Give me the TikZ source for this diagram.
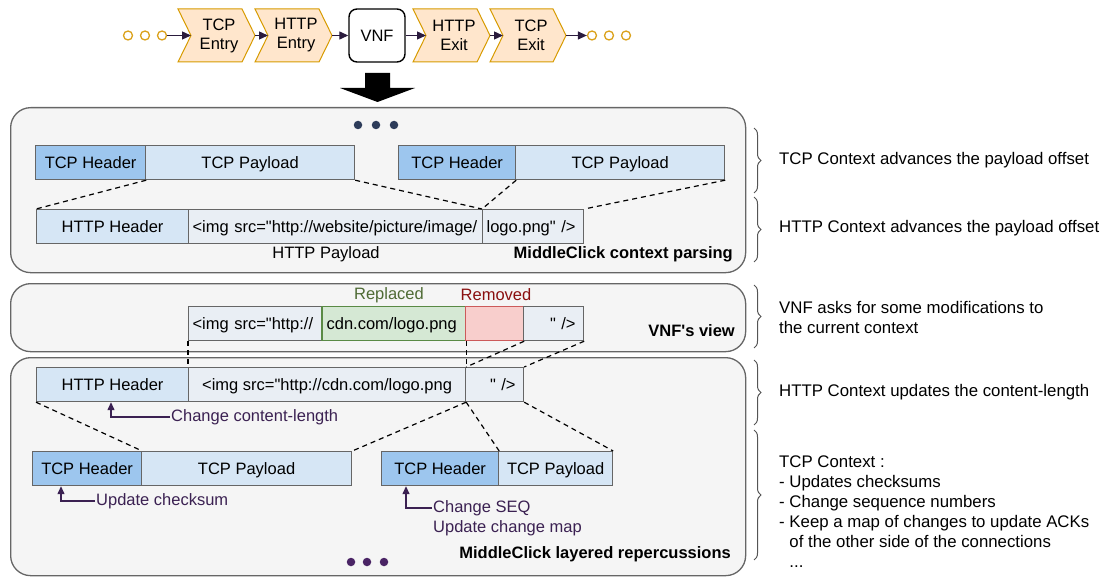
\documentclass[tikz,border=0pt]{standalone}
\usepackage{fontspec}
\setmainfont{Liberation Sans}[Ligatures=TeXOff]
\usetikzlibrary{arrows.meta,decorations.pathreplacing,calc}

\definecolor{chevfill}{HTML}{FFE6CC}
\definecolor{chevline}{HTML}{D79B00}
\definecolor{dotline}{HTML}{DBA21C}
\definecolor{flow}{HTML}{2A1B3D}
\definecolor{note}{HTML}{3B2152}
\definecolor{panelfill}{HTML}{F5F5F5}
\definecolor{panelline}{HTML}{666666}
\definecolor{boxline}{HTML}{666666}
\definecolor{hdrfill}{HTML}{9DC6EE}
\definecolor{payfill}{HTML}{D6E6F5}
\definecolor{lightfill}{HTML}{E9EEF4}
\definecolor{grnfill}{HTML}{D5E8D4}
\definecolor{grnline}{HTML}{5A8A45}
\definecolor{grntext}{HTML}{4F6B35}
\definecolor{redfill}{HTML}{F8CECC}
\definecolor{redline}{HTML}{CC5A5A}
\definecolor{redtext}{HTML}{8A1010}
\definecolor{navydot}{HTML}{2D3C5A}
\definecolor{purpdot}{HTML}{4A2465}
\definecolor{bracecol}{HTML}{555555}

\newcommand\figfont{\fontsize{16.5}{19}\selectfont}
\newcommand\sidefont{\fontsize{16.8}{20}\selectfont}

\tikzset{
  chev/.style={fill=chevfill, draw=chevline, line width=1pt, line join=miter},
  chevtext/.style={font=\figfont, align=center, inner sep=0pt},
  flowarrow/.style={draw=flow, line width=1.3pt, -{Triangle[width=8pt,length=9pt]}},
  ring/.style={circle, draw=dotline, fill=white, line width=1.3pt, minimum size=9pt, inner sep=0pt},
  panel/.style={draw=panelline, fill=panelfill, line width=1.3pt, rounded corners=20pt,
    anchor=north west, inner sep=0pt},
  pkt/.style={draw=boxline, line width=1.2pt, minimum height=34pt, inner sep=0pt,
    text height=11.8pt, text depth=0pt, anchor=north west, font=\figfont},
  lpkt/.style={pkt, inner xsep=4pt, align=left},
  rpkt/.style={pkt, inner xsep=8pt, align=right},
  link/.style={line width=1.2pt, dash pattern=on 5pt off 4pt},
  notearrow/.style={draw=note, line width=1.3pt, -{Triangle[width=7pt,length=8pt]}},
  notetext/.style={font=\figfont, text=note, anchor=west, inner sep=1pt},
  boldtext/.style={font=\figfont\bfseries, inner sep=0pt},
  sidetext/.style={font=\sidefont, anchor=west, align=left, inner sep=0pt},
  curly/.style={draw=bracecol, line width=1pt,
    decorate, decoration={brace, amplitude=7pt, aspect=0.5}},
  bigdot/.style={circle, inner sep=0pt, minimum size=8.5pt},
}

\begin{document}
\begin{tikzpicture}[x=1pt, y=-1pt]
\useasboundingbox (0,0) rectangle (1107,577);

% ---------- processing chain ----------
\foreach \i/\x in {1/128, 2/145, 3/162} \node[ring] (inl\i) at (\x,35.5) {};
\foreach \i/\x in {1/592, 2/609, 3/626} \node[ring] (outl\i) at (\x,35.5) {};

\draw[chev] (178,9) -- (242,9) -- (255,35.5) -- (242,62) -- (178,62) -- (191,35.5) -- cycle;
\draw[chev] (255,9) -- (319,9) -- (332,35.5) -- (319,62) -- (255,62) -- (268,35.5) -- cycle;
\draw[chev] (413,9) -- (477,9) -- (490,35.5) -- (477,62) -- (413,62) -- (426,35.5) -- cycle;
\draw[chev] (490,9) -- (553,9) -- (566,35.5) -- (553,62) -- (490,62) -- (503,35.5) -- cycle;

\coordinate (tcpin-n) at (191,35.5);   \coordinate (tcpin-t) at (255,35.5);
\coordinate (httpin-n) at (268,35.5);  \coordinate (httpin-t) at (332,35.5);
\coordinate (httpout-n) at (426,35.5); \coordinate (httpout-t) at (490,35.5);
\coordinate (tcpout-n) at (503,35.5);  \coordinate (tcpout-t) at (566,35.5);

\node[chevtext] (tcpin) at (219,35.5) {TCP\\Entry};
\node[chevtext] (httpin) at (296,35.5) {HTTP\\Entry};
\node[draw=black, line width=1.4pt, rounded corners=8pt, minimum width=56pt,
      minimum height=53pt, font=\figfont, inner sep=0pt] (vnf) at (377,35.5) {VNF};
\node[chevtext] (httpout) at (454,35.5) {HTTP\\Exit};
\node[chevtext] (tcpout) at (531,35.5) {TCP\\Exit};

\draw[flowarrow] (inl3) -- (tcpin-n);
\draw[flowarrow] (tcpin-t) -- (httpin-n);
\draw[flowarrow] (httpin-t) -- (vnf.west);
\draw[flowarrow] (vnf.east) -- (httpout-n);
\draw[flowarrow] (httpout-t) -- (tcpout-n);
\draw[flowarrow] (tcpout-t) -- (outl1);

% big downward arrow
\fill[black] (365,73) -- (390,73) -- (390,88) -- (415,88) -- (377.5,102)
  -- (340,88) -- (365,88) -- cycle;

% ---------- panels ----------
\node[panel, minimum width=735pt, minimum height=165pt] (p1) at (10,107) {};
\node[panel, minimum width=735pt, minimum height=68pt] (p2) at (10,283) {};
\node[panel, minimum width=735pt, minimum height=218pt] (p3) at (10,357) {};

% ---------- context parsing ----------
\foreach \i/\x in {1/358, 2/376, 3/394} \node[bigdot, fill=navydot] (topdot\i) at (\x,125) {};

\node[pkt, fill=hdrfill, minimum width=110pt] (th1) at (35,145) {TCP Header};
\node[pkt, fill=payfill, minimum width=209pt] (tp1) at (145,145) {TCP Payload};
\node[pkt, fill=hdrfill, minimum width=117pt] (th2) at (398,145) {TCP Header};
\node[pkt, fill=payfill, minimum width=209pt] (tp2) at (515,145) {TCP Payload};

\node[pkt, fill=payfill, minimum width=152pt] (hh1) at (36,209) {HTTP Header};
\node[lpkt, fill=lightfill, text width=286pt] (img1) at (188,209) {<img src="http://website/picture/image/};
\node[lpkt, fill=lightfill, text width=93pt] (logo) at (482,209) {logo.png" />};

\node[font=\figfont, inner sep=0pt] (hpay) at (326,254) {HTTP Payload};
\node[boldtext, anchor=east] (ctxparse) at (733,254) {MiddleClick context parsing};

\draw[link] (th1.south east) -- (hh1.north west);
\draw[link] (tp1.south east) -- (logo.north west);
\draw[link] (th2.south east) -- (logo.north west);
\draw[link] (tp2.south east) -- (logo.north east);

% ---------- VNF's view ----------
\node[lpkt, fill=lightfill, text width=126pt] (img2) at (188,306) {<img src="http://};
\node[lpkt, fill=grnfill, draw=grnline, text width=135pt] (cdn) at (322,306) {cdn.com/logo.png};
\node[pkt, fill=redfill, draw=redline, minimum width=58pt] (rem) at (465,306) {};
\node[rpkt, fill=lightfill, text width=44pt] (end2) at (523,306) {" />};
\draw[grnline, line width=1.2pt] (cdn.north west) -- (cdn.south west);

\node[font=\figfont, text=grntext, inner sep=0pt] (replaced) at (389,295) {Replaced};
\node[font=\figfont, text=redtext, inner sep=0pt] (removed) at (496,295) {Removed};
\node[boldtext, anchor=east] (vnfview) at (735,331) {VNF's view};

% ---------- layered repercussions ----------
\node[pkt, fill=payfill, minimum width=152pt] (hh2) at (36,367) {HTTP Header};
\node[pkt, fill=lightfill, minimum width=277pt] (img3) at (188,367) {<img src="http://cdn.com/logo.png};
\node[rpkt, fill=lightfill, text width=42pt] (end3) at (465,367) {" />};

\draw[link] (img2.south west) -- (img3.north west);
\draw[link] (cdn.south east) -- (img3.north east);
\draw[link] (rem.south east) -- (img3.north east);
\draw[link] (end2.south east) -- (end3.north east);

\node[pkt, fill=hdrfill, minimum width=109pt] (th3) at (32,451) {TCP Header};
\node[pkt, fill=payfill, minimum width=210pt] (tp3) at (141,451) {TCP Payload};
\node[pkt, fill=hdrfill, minimum width=117pt] (th4) at (381,451) {TCP Header};
\node[pkt, fill=payfill, minimum width=114pt] (tp4) at (498,451) {TCP Payload};

\draw[link] (hh2.south west) -- (th3.north east);
\draw[link] (img3.south east) -- (tp3.north east);
\draw[link] (img3.south east) -- (th4.north east);
\draw[link] (end3.south east) -- (tp4.north east);

\node[notetext] (ccl) at (170,417) {Change content-length};
\draw[notearrow] (ccl.west) -| ([xshift=75pt]hh2.south west);

\node[notetext] (chk) at (95,501) {Update checksum};
\draw[notearrow] (chk.west) -| ([xshift=29pt]th3.south west);

\node[notetext] (seq) at (432,508) {Change SEQ};
\node[notetext] (map) at (432,528) {Update change map};
\draw[notearrow] (seq.west) -| ([xshift=25pt]th4.south west);

\node[boldtext, anchor=east] (layered) at (731,554) {MiddleClick layered repercussions};
\foreach \i/\x in {1/351, 2/367, 3/384} \node[bigdot, fill=purpdot] (botdot\i) at (\x,562) {};

% ---------- side comments ----------
\draw[curly] (754,128) -- (754,193);
\draw[curly] (754,197) -- (754,262);
\draw[curly] (754,285) -- (754,348);
\draw[curly] (754,360) -- (754,425);
\draw[curly] (754,430) -- (754,560);

\node[sidetext] (c1) at (779,160) {TCP Context advances the payload offset};
\node[sidetext] (c2) at (779,228) {HTTP Context advances the payload offset};
\node[sidetext] (c3) at (779,317) {VNF asks for some modifications to\\the current context};
\node[sidetext] (c4) at (779,392) {HTTP Context updates the content-length};
\node[sidetext] (c5) at (779,512) {TCP Context :\\- Updates checksums\\- Change sequence numbers\\
  - Keep a map of changes to update ACKs\\\phantom{- }of the other side of the connections\\\phantom{- }...};
\end{tikzpicture}
\end{document}
